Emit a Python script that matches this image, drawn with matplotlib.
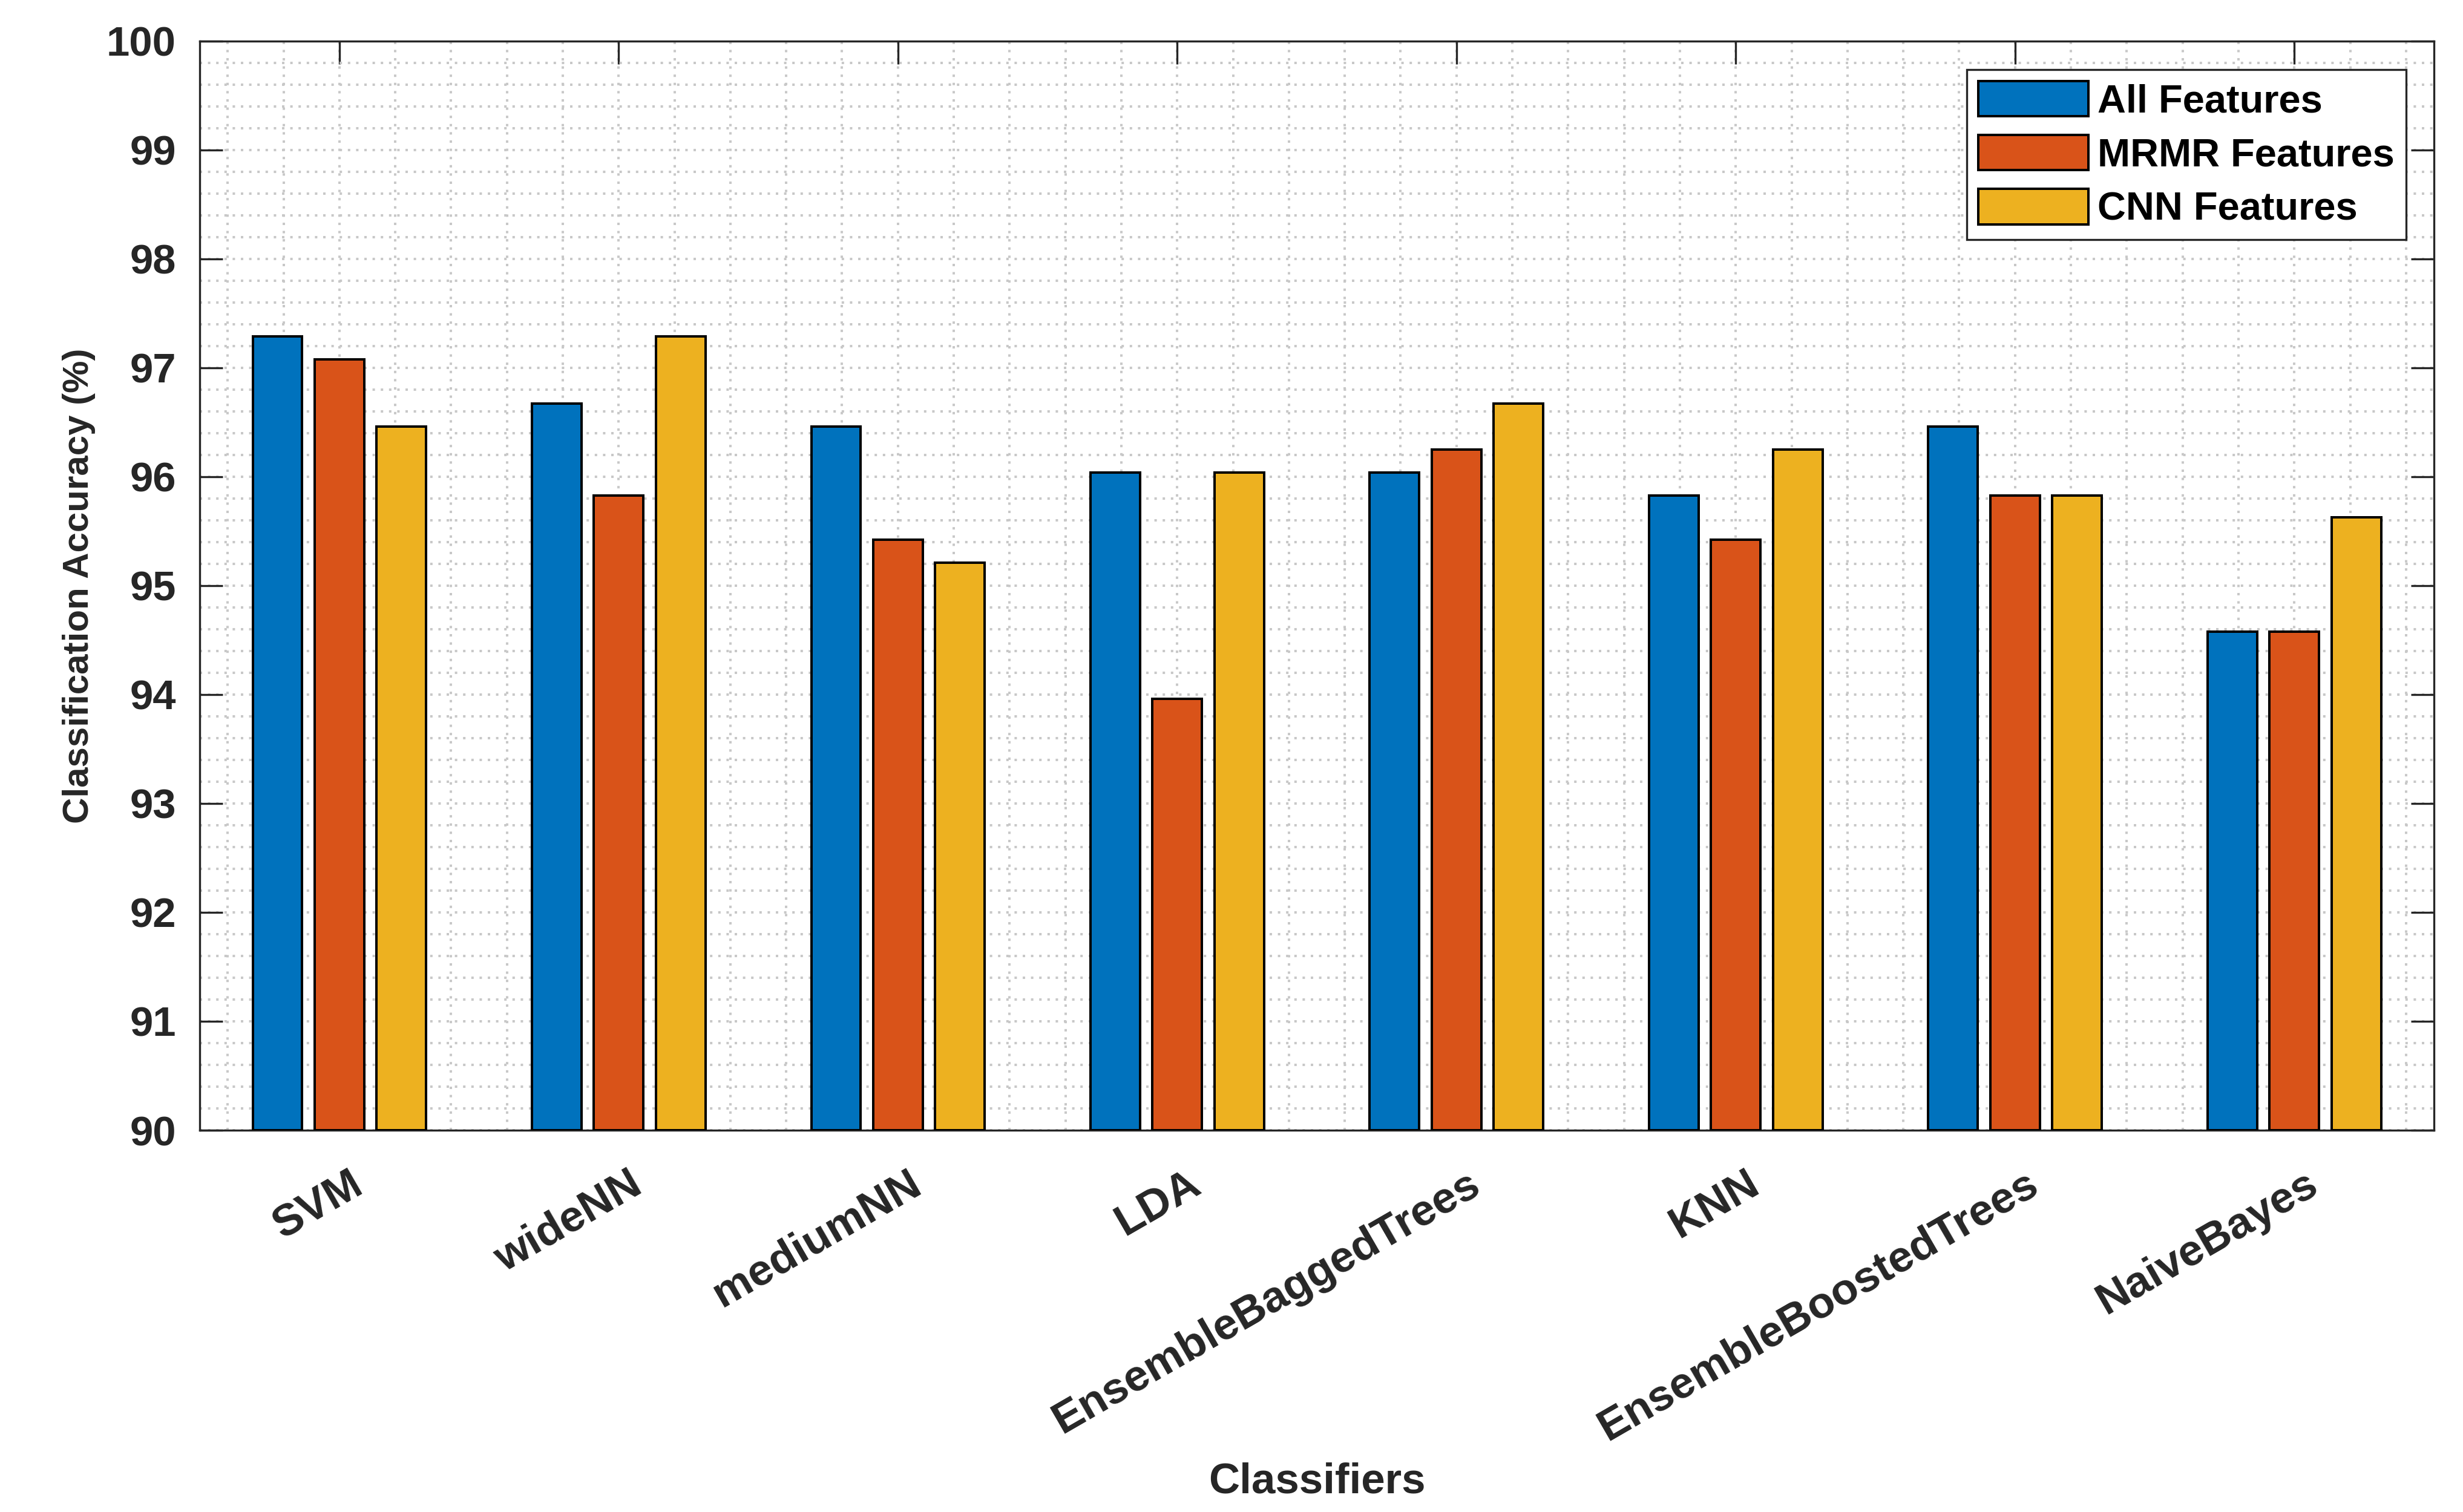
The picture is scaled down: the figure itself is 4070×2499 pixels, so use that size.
import matplotlib
matplotlib.use("Agg")
import matplotlib.pyplot as plt
import matplotlib.transforms as mtransforms
from matplotlib.ticker import MultipleLocator
import numpy as np

# Классификаторы (подписи оси X)
classifiers = ["SVM", "wideNN", "mediumNN", "LDA", "EnsembleBaggedTrees",
               "KNN", "EnsembleBoostedTrees", "NaiveBayes"]

# Точность классификации (%) для трёх наборов признаков
all_features = [97.29, 96.67, 96.46, 96.04, 96.04, 95.83, 96.46, 94.58]
mrmr_features = [97.08, 95.83, 95.42, 93.96, 96.25, 95.42, 95.83, 94.58]
cnn_features = [96.46, 97.29, 95.21, 96.04, 96.67, 96.25, 95.83, 95.63]

series_names = ["All Features", "MRMR Features", "CNN Features"]
series_colors = ["#0072BD", "#D95319", "#EDB120"]

# Общие настройки шрифта (аналог Helvetica Bold в MATLAB)
plt.rcParams["font.family"] = ["Liberation Sans", "DejaVu Sans"]
plt.rcParams["font.weight"] = "bold"

DPI = 300
dark = "#262626"

fig = plt.figure(figsize=(4070 / DPI, 2499 / DPI), dpi=DPI)
ax = fig.add_axes([0.0811, 0.2525, 0.9071, 0.7203])

x = np.arange(1, len(classifiers) + 1)
bar_width = 0.177
step = 0.222

for i, (vals, name, color) in enumerate(zip([all_features, mrmr_features, cnn_features],
                                            series_names, series_colors)):
    ax.bar(x + (i - 1) * step, np.array(vals) - 90, bottom=90, width=bar_width,
           color=color, edgecolor="black", linewidth=0.96, label=name, zorder=3)

# Оси и пределы
ax.set_xlim(0.5, 8.5)
ax.set_ylim(90, 100)
ax.set_yticks(np.arange(90, 101, 1))
ax.set_xticks(x)
ax.xaxis.set_minor_locator(MultipleLocator(0.2))
ax.yaxis.set_minor_locator(MultipleLocator(0.2))

# Сетка пунктиром (основная и дополнительная)
grid_style = dict(color="#c8c8c8", linestyle=(0, (1, 2.4)), linewidth=0.96)
ax.grid(True, which="major", **grid_style)
ax.grid(True, which="minor", **grid_style)
ax.set_axisbelow(True)

for sp in ax.spines.values():
    sp.set_color(dark)
    sp.set_linewidth(0.8)

ax.tick_params(which="major", direction="in", length=9.1, width=0.8, color=dark,
               top=True, right=True, labelsize=16.5, labelcolor=dark)
ax.tick_params(which="minor", length=0, top=True, right=True)
ax.tick_params(axis="y", pad=9.4)
ax.tick_params(axis="x", pad=0, labelsize=17.5)

# Повёрнутые подписи классификаторов
ax.set_xticklabels(classifiers, rotation=30, ha="right", va="center",
                   rotation_mode="anchor", fontweight="bold")
offset = mtransforms.ScaledTranslation(0.11, -0.28, fig.dpi_scale_trans)
for lbl in ax.get_xticklabels():
    lbl.set_transform(lbl.get_transform() + offset)

# Подписи осей
ax.set_xlabel("Classifiers", fontsize=17, fontweight="bold", color=dark)
ax.xaxis.set_label_coords(0.5, -0.323)
ax.xaxis.label.set_va("center")
ax.set_ylabel("Classification Accuracy (%)", fontsize=14.4, fontweight="bold", color=dark)
ax.yaxis.set_label_coords(-0.054, 0.5)
ax.yaxis.label.set_va("center")

# Легенда
leg = ax.legend(loc="upper right", bbox_to_anchor=(0.9875, 0.974), borderaxespad=0,
                fontsize=15.6, fancybox=False, framealpha=1, edgecolor=dark,
                handlelength=2.8, handleheight=1.0, handletextpad=0.22,
                labelspacing=0.38, borderpad=0.3)
leg.get_frame().set_linewidth(0.8)
for t in leg.get_texts():
    t.set_fontweight("bold")
    t.set_color("black")

fig.savefig("out.png", dpi=DPI)
